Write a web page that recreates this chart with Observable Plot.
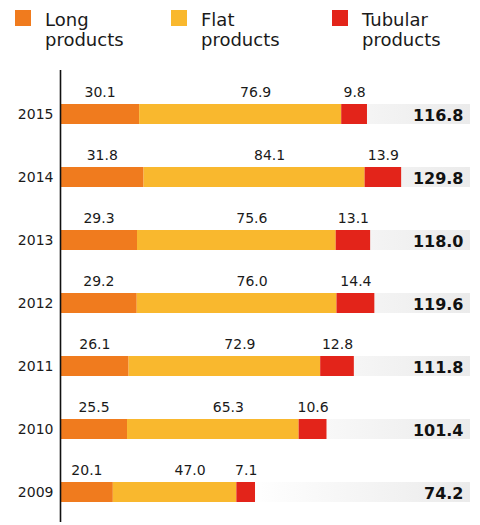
<!DOCTYPE html>
<html><head><meta charset="utf-8">
<script src="https://cdn.jsdelivr.net/npm/d3@7"></script>
<script src="https://cdn.jsdelivr.net/npm/@observablehq/plot@0.6"></script>
<style>
body{margin:0;background:#fff;font-family:"DejaVu Sans",sans-serif;}
#wrap{position:relative;width:480px;height:525px;overflow:hidden;}
#legend{position:relative;height:60px;}
.item{position:absolute;top:10px;}
.sw{position:absolute;left:0;top:0;width:16px;height:16px;}
.lab{position:absolute;left:30px;top:0;font-size:18px;line-height:20px;color:#1a1a1a;white-space:nowrap;}
#chart svg{display:block;}
</style></head><body>
<div id="wrap"><div id="legend"></div><div id="chart"></div></div>
<script>
const years = [2015, 2014, 2013, 2012, 2011, 2010, 2009];
const longProducts = [30.1, 31.8, 29.3, 29.2, 26.1, 25.5, 20.1];
const flatProducts = [76.9, 84.1, 75.6, 76.0, 72.9, 65.3, 47.0];
const tubularProducts = [9.8, 13.9, 13.1, 14.4, 12.8, 10.6, 7.1];
const totals = [116.8, 129.8, 118.0, 119.6, 111.8, 101.4, 74.2];
const categories = ["Long products", "Flat products", "Tubular products"];
const legendLines = [["Long", "products"], ["Flat", "products"], ["Tubular", "products"]];
const colors = ["#f07b1e", "#f9b82e", "#e3241a"];

// legend
const legendX = [15, 171, 332];
const legend = document.getElementById("legend");
categories.forEach((c, i) => {
  const it = document.createElement("div");
  it.className = "item";
  it.style.left = legendX[i] + "px";
  it.innerHTML = `<div class="sw" style="background:${colors[i]}"></div><div class="lab">${legendLines[i].join("<br>")}</div>`;
  legend.appendChild(it);
});

const series = [longProducts, flatProducts, tubularProducts];
const rows = [];
years.forEach((y, i) => {
  let start = 0;
  series.forEach((s, k) => {
    rows.push({year: y, cat: categories[k], v: s[i], mid: start + s[i] / 2});
    start += s[i];
  });
});
const totalRows = years.map((y, i) => ({year: y, total: totals[i]}));
const xMax = 156;

const chart = Plot.plot({
  width: 480, height: 465,
  marginLeft: 60, marginRight: 10, marginTop: 10, marginBottom: 3,
  x: {domain: [0, xMax], axis: null},
  y: {type: "band", domain: years, range: [21.4, 463.6], paddingInner: 0.69, paddingOuter: 0.345, axis: null},
  color: {domain: categories, range: colors},
  style: {fontFamily: "DejaVu Sans", background: "white"},
  marks: [
    Plot.barX(totalRows, {x1: 0, x2: xMax, y: "year", fill: "url(#fade)"}),
    Plot.barX(rows, Plot.stackX({x: "v", y: "year", fill: "cat", order: categories})),
    Plot.text(rows.filter(d => d.cat !== categories[1]), {x: "mid", y: "year", text: d => d.v.toFixed(1), dy: -22, fontSize: 14, fill: "#1a1a1a"}),
    Plot.text(rows.filter(d => d.cat === categories[1]), {x: "mid", y: "year", text: d => d.v.toFixed(1), dy: -22, dx: 15, fontSize: 14, fill: "#1a1a1a"}),
    Plot.text(totalRows, {x: xMax, y: "year", text: d => d.total.toFixed(1), textAnchor: "end", dx: -7, dy: 1, fontSize: 16, fontWeight: "bold", fill: "#111"}),
    Plot.axisY({tickSize: 0, tickPadding: 7, fontSize: 14, label: null, tickFormat: d => String(d), color: "#1a1a1a"}),
    Plot.ruleX([0], {stroke: "#111", strokeWidth: 1.6})
  ]
});
const ns = "http://www.w3.org/2000/svg";
const defs = document.createElementNS(ns, "defs");
defs.innerHTML = `<linearGradient id="fade" x1="0" x2="1" y1="0" y2="0">
  <stop offset="0" stop-color="#ffffff"/><stop offset="0.46" stop-color="#ffffff"/><stop offset="1" stop-color="#ebebeb"/></linearGradient>`;
chart.insertBefore(defs, chart.firstChild);
document.getElementById("chart").appendChild(chart);
</script>
</body></html>
